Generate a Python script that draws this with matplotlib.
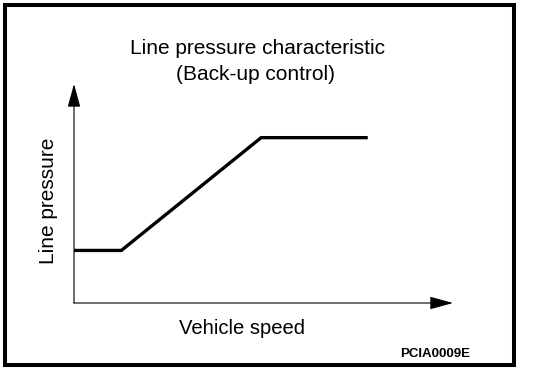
import matplotlib
matplotlib.use("Agg")
import matplotlib.pyplot as plt
from matplotlib.patches import Rectangle

plt.rcParams['font.family'] = ['Liberation Sans', 'DejaVu Sans']

# characteristic curve (arbitrary units, no ticks on the chart)
speed = [0, 1.0, 3.95, 6.2]
pressure = [2.4, 2.4, 7.55, 7.55]

title_lines = ["Line pressure characteristic", "(Back-up control)"]
xlabel = "Vehicle speed"
ylabel = "Line pressure"
fig_code = "PCIA0009E"

W, H = 544, 374
fig = plt.figure(figsize=(W / 100, H / 100), dpi=100)

# outer frame
fig.patches.append(Rectangle((5 / W, 1 - 365 / H), 509 / W, 360 / H,
                             transform=fig.transFigure, fill=False,
                             lw=2.9, ec="black"))

# plot area: origin at (74, 303) px, arrow tips at x=453 and y=84
ax = fig.add_axes([74 / W, 1 - 303 / H, (453 - 74) / W, (303 - 84) / H])
ax.set_xlim(0, 8)
ax.set_ylim(0, 10)
for s in ax.spines.values():
    s.set_visible(False)
ax.set_xticks([])
ax.set_yticks([])

arrow = dict(arrowstyle="-|>,head_length=1.2,head_width=0.33", lw=0.8,
             color="black", shrinkA=0, shrinkB=0, mutation_scale=12)
ax.annotate("", xy=(1, 0), xytext=(0, 0), xycoords="axes fraction",
            arrowprops=arrow, annotation_clip=False)
ax.annotate("", xy=(0, 1), xytext=(0, 0), xycoords="axes fraction",
            arrowprops=arrow, annotation_clip=False)

ax.plot(speed, pressure, color="black", lw=2.4, solid_joinstyle="miter",
        solid_capstyle="butt", clip_on=False)

fig.text(257 / W, 1 - 48 / H, title_lines[0], ha="center", va="center", fontsize=15)
fig.text(256 / W, 1 - 74 / H, title_lines[1], ha="center", va="center", fontsize=15)
fig.text(242 / W, 1 - 328 / H, xlabel, ha="center", va="center", fontsize=14.6)
fig.text(49 / W, 1 - 201 / H, ylabel, ha="center", va="center", fontsize=15,
         rotation=90)
fig.text(470 / W, 1 - 354 / H, fig_code, ha="right", va="center", fontsize=9.5,
         fontweight="bold")

fig.savefig("out.png", dpi=100)
